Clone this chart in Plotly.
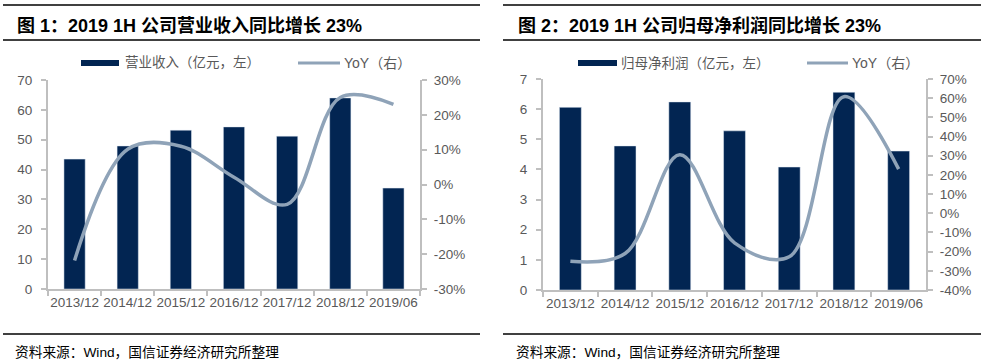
import plotly.graph_objects as go

W, H = 993, 363

categories = ["2013/12", "2014/12", "2015/12", "2016/12", "2017/12", "2018/12", "2019/06"]
revenue = [43.5, 47.9, 53.2, 54.3, 51.2, 64.0, 33.8]
revenue_yoy = [-21.8, 10.1, 11.0, 2.1, -5.7, 25.0, 23.0]
profit = [6.06, 4.78, 6.24, 5.28, 4.08, 6.56, 4.61]
profit_yoy = [-25.0, -21.0, 30.5, -15.4, -22.7, 60.8, 23.0]

yoy1_ticks = [-30, -20, -10, 0, 10, 20, 30]
yoy1_labels = ["-30%", "-20%", "-10%", "0%", "10%", "20%", "30%"]
yoy2_ticks = [-40, -30, -20, -10, 0, 10, 20, 30, 40, 50, 60, 70]
yoy2_labels = ["-40%", "-30%", "-20%", "-10%", "0%", "10%", "20%", "30%", "40%", "50%", "60%", "70%"]

title1 = "图 1：2019 1H 公司营业收入同比增长 23%"
title2 = "图 2：2019 1H 公司归母净利润同比增长 23%"
bar_name1 = "营业收入（亿元，左）"
bar_name2 = "归母净利润（亿元，左）"
line_name = "YoY（右）"
source = "资料来源：Wind，国信证券经济研究所整理"

BAR = "#022552"
LINE = "#8FA3B8"
GRAY = "#595959"
AXIS = "#BFBFBF"
FONT = "Liberation Sans, Arial, Noto Sans CJK SC, sans-serif"


def px(x):
    return x / W


def py(y):
    return 1 - y / H


fig = go.Figure()

fig.add_trace(go.Bar(x=categories, y=revenue, name=bar_name1, marker_color=BAR,
                     xaxis="x", yaxis="y", width=0.4))
fig.add_trace(go.Scatter(x=categories, y=revenue_yoy, name=line_name, mode="lines",
                         line=dict(color=LINE, width=3.5, shape="spline", smoothing=1.0),
                         xaxis="x", yaxis="y2"))
fig.add_trace(go.Bar(x=categories, y=profit, name=bar_name2, marker_color=BAR,
                     xaxis="x2", yaxis="y3", width=0.4))
fig.add_trace(go.Scatter(x=categories, y=profit_yoy, name=line_name, mode="lines",
                         line=dict(color=LINE, width=3.5, shape="spline", smoothing=1.0),
                         xaxis="x2", yaxis="y4"))

tickfont = dict(family=FONT, size=13.5, color=GRAY)

xcommon = dict(type="category", showline=True, linecolor=AXIS, linewidth=2,
               ticks="outside", tickson="boundaries", ticklen=5, tickcolor=AXIS, tickwidth=2,
               showgrid=False, tickfont=tickfont, zeroline=False, tickangle=0, automargin=False)
ycommon = dict(showline=True, linecolor=AXIS, linewidth=2, ticks="outside", ticklen=5,
               tickcolor=AXIS, tickwidth=2, showgrid=False, zeroline=False, tickfont=tickfont,
               automargin=False)

dom1 = [px(48), px(420)]
dom2 = [px(543), px(926)]
ydom1 = [py(289), py(80)]
ydom2 = [py(290), py(79)]

fig.update_layout(
    width=W, height=H,
    margin=dict(l=0, r=0, t=0, b=0, autoexpand=False),
    paper_bgcolor="white", plot_bgcolor="white",
    font=dict(family=FONT, color=GRAY),
    showlegend=False,
    xaxis=dict(domain=dom1, anchor="y", **xcommon),
    yaxis=dict(domain=ydom1, anchor="x", range=[0, 70], dtick=10, ticklabelstandoff=6, **ycommon),
    yaxis2=dict(domain=ydom1, anchor="x", overlaying="y", side="right", range=[-30, 30],
                tickvals=yoy1_ticks, ticktext=yoy1_labels, ticklabelstandoff=4, **ycommon),
    xaxis2=dict(domain=dom2, anchor="y3", **xcommon),
    yaxis3=dict(domain=ydom2, anchor="x2", range=[0, 7], dtick=1, ticklabelstandoff=6, **ycommon),
    yaxis4=dict(domain=ydom2, anchor="x2", overlaying="y3", side="right", range=[-40, 70],
                tickvals=yoy2_ticks, ticktext=yoy2_labels, ticklabelstandoff=4, **ycommon),
)

shapes = []
for (x0, x1) in [(3, 480), (503, 981)]:
    for y in [5, 40, 334]:
        shapes.append(dict(type="line", xref="paper", yref="paper", x0=px(x0), x1=px(x1),
                           y0=py(y), y1=py(y), line=dict(color="black", width=1.3)))

# custom legend swatches (bar: wide rectangle, line: short stroke)
legend_layout = [
    (81, 119, 123, 298, 340, 342, bar_name1),
    (578, 617, 619, 807, 848, 850, bar_name2),
]
annotations = []
for bx0, bx1, btx, lx0, lx1, ltx, lbl in legend_layout:
    shapes.append(dict(type="rect", xref="paper", yref="paper", x0=px(bx0), x1=px(bx1),
                       y0=py(66), y1=py(60), fillcolor=BAR, line=dict(width=0)))
    shapes.append(dict(type="line", xref="paper", yref="paper", x0=px(lx0), x1=px(lx1),
                       y0=py(63), y1=py(63), line=dict(color=LINE, width=3)))
    annotations.append(dict(text=lbl, x=px(btx), y=py(63), xanchor="left", yanchor="middle",
                            font=dict(family=FONT, size=13.5, color=GRAY)))
    annotations.append(dict(text=line_name, x=px(ltx), y=py(63), xanchor="left", yanchor="middle",
                            font=dict(family=FONT, size=14, color=GRAY)))
fig.update_layout(shapes=shapes)

annotations += [
    dict(text="<b>" + title1 + "</b>", x=px(15), y=py(25), xanchor="left", yanchor="middle",
         font=dict(family=FONT, size=18, color="black")),
    dict(text="<b>" + title2 + "</b>", x=px(516), y=py(25), xanchor="left", yanchor="middle",
         font=dict(family=FONT, size=18, color="black")),
    dict(text=source, x=px(13), y=py(352), xanchor="left", yanchor="middle",
         font=dict(family=FONT, size=13.7, color="black")),
    dict(text=source, x=px(514), y=py(352), xanchor="left", yanchor="middle",
         font=dict(family=FONT, size=13.7, color="black")),
]
for a in annotations:
    a.update(xref="paper", yref="paper", showarrow=False)
fig.update_layout(annotations=annotations)

fig.write_html("out.html", config={"displayModeBar": False},
               post_script="document.body.style.margin='0';document.body.style.overflow='hidden';")
